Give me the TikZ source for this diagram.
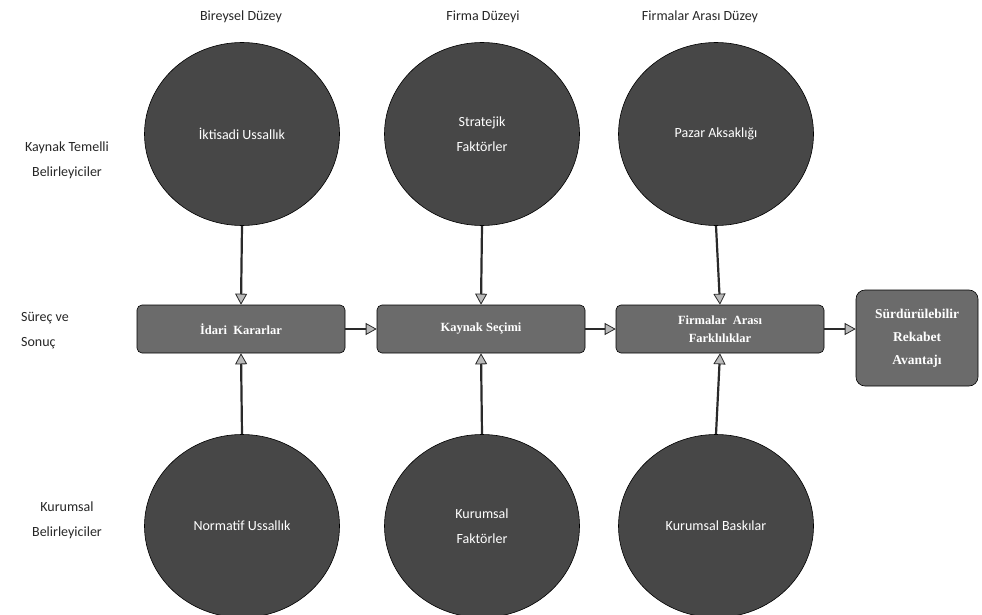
\documentclass[tikz,border=0pt]{standalone}
\usepackage{fontspec}
\setmainfont{Liberation Serif}
\newfontfamily\carl{Carlito}
\usetikzlibrary{arrows.meta,shapes.geometric}
\definecolor{ellfill}{HTML}{474747}
\definecolor{boxfill}{HTML}{6B6B6B}
\definecolor{lineC}{HTML}{2A2A2A}
\begin{document}
\begin{tikzpicture}[x=1pt,y=-1pt,
  ell/.style={ellipse, fill=ellfill, draw=black, line width=0.6pt, minimum width=195pt, minimum height=183pt, inner sep=0pt, text=white, font=\carl\fontsize{14}{25}\selectfont, align=center},
  procbox/.style={rounded corners=5pt, fill=boxfill, draw=black, line width=0.6pt, minimum width=208pt, minimum height=48pt, text=white, font=\bfseries\fontsize{12.5}{18}\selectfont, align=center},
  hdr/.style={font=\carl\fontsize{14}{25}\selectfont, align=center, text=black!85},
  conn/.style={draw=lineC, line width=2.2pt, -{Triangle[length=11pt,width=12pt,fill=gray!55,line width=0.8pt]}}
]
\useasboundingbox (0,0) rectangle (982,615);
% headers
\node[hdr] (h1) at (241,17) {Bireysel Düzey};
\node[hdr] (h2) at (483,17) {Firma Düzeyi};
\node[hdr] (h3) at (700,17) {Firmalar Arası Düzey};
\node[hdr] (l1) at (67,160) {Kaynak Temelli\\Belirleyiciler};
\node[hdr, align=left] (l2) at (45,331) {Süreç ve\\Sonuç};
\node[hdr] (l3) at (67,520) {Kurumsal\\Belirleyiciler};
% top ellipses
\node[ell] (e1) at (242,134) {İktisadi Ussallık};
\node[ell] (e2) at (482,134) {Stratejik\\Faktörler};
\node[ell] (e3) at (716,134) {Pazar Aksaklığı};
% bottom ellipses
\node[ell] (f1) at (242,526) {Normatif Ussallık};
\node[ell] (f2) at (482,526) {Kurumsal\\Faktörler};
\node[ell] (f3) at (716,526) {Kurumsal Baskılar};
% boxes
\node[procbox] (b1) at (241,329) {İdari\ \ Kararlar};
\node[procbox] (b2) at (481,329) {Kaynak Seçimi};
\node[procbox] (b3) at (720,329) {Firmalar\ \ Arası\\Farklılıklar};
\node[procbox, rounded corners=9pt, minimum width=122pt, minimum height=96pt, font=\bfseries\fontsize{13.5}{23}\selectfont] (b4) at (917,338) {Sürdürülebilir\\Rekabet\\Avantajı};
% vertical arrows
\draw[conn] (e1.south) -- (b1.north);
\draw[conn] (e2.south) -- (b2.north);
\draw[conn] (e3.south) -- (b3.north);
\draw[conn] (f1.north) -- (b1.south);
\draw[conn] (f2.north) -- (b2.south);
\draw[conn] (f3.north) -- (b3.south);
% horizontal arrows
\draw[conn] (b1.east) -- (b2.west);
\draw[conn] (b2.east) -- (b3.west);
\draw[conn] (b3.east) -- (b4.west |- b3.east);
\end{tikzpicture}
\end{document}
